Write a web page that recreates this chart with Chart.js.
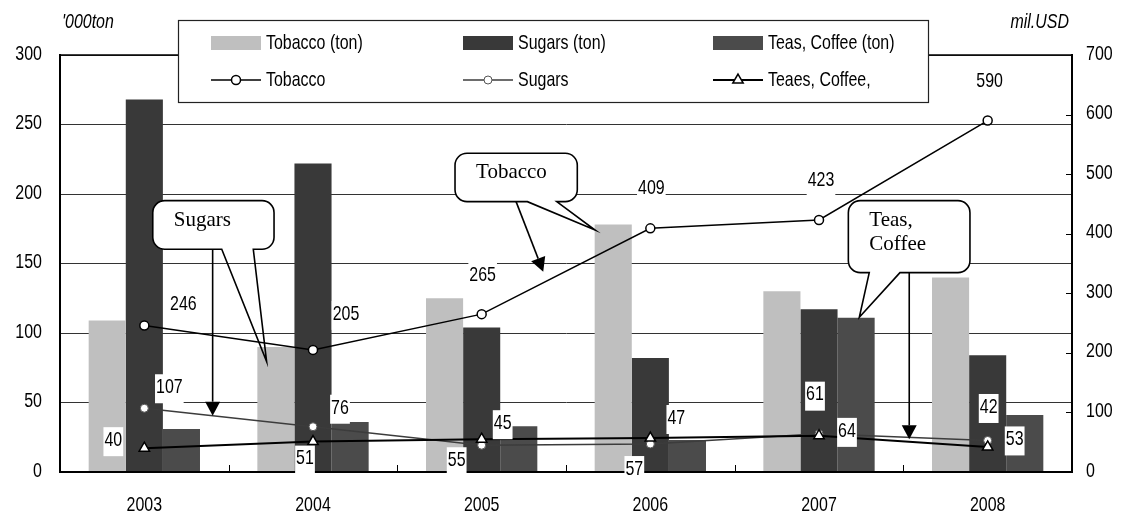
<!DOCTYPE html>
<html>
<head>
<meta charset="utf-8">
<script src="https://cdn.jsdelivr.net/npm/chart.js@4.4.1/dist/chart.umd.min.js"></script>
<style>
  html, body { margin: 0; padding: 0; background: #fff; }
  canvas { display: block; }
</style>
</head>
<body>
<canvas id="c" width="1121" height="515"></canvas>
<script>
// ---- data -------------------------------------------------------------
const years = ['2003', '2004', '2005', '2006', '2007', '2008'];

// import volume, '000 ton (left axis)
const tobaccoTon    = [109, 90, 125, 178, 130, 140];
const sugarsTon     = [268, 222, 104, 82, 117, 84];
const teasCoffeeTon = [31, 36, 33, 23, 111, 41];

// import value, mil. USD (right axis)
const tobaccoUsd    = [246, 205, 265, 409, 423, 590];
const sugarsUsd     = [107, 76, 45, 47, 64, 53];
const teasCoffeeUsd = [40, 51, 55, 57, 61, 42];

// axis ticks
const leftTicks  = [0, 50, 100, 150, 200, 250, 300];
const rightTicks = [0, 100, 200, 300, 400, 500, 600, 700];

// ---- fonts --------------------------------------------------------------
function fontAvailable(name) {
  const c = document.createElement('canvas').getContext('2d');
  const probe = 'mmmmmmmmmmlli0123456789WQ';
  c.font = '40px monospace';
  const a = c.measureText(probe).width;
  c.font = '40px "' + name + '", monospace';
  return c.measureText(probe).width !== a;
}
const NARROW = fontAvailable('Liberation Sans Narrow');
const FAM = NARROW ? '"Liberation Sans Narrow", "Arial Narrow", sans-serif'
                   : '"Liberation Sans", Arial, sans-serif';
// condensed look: squeeze the regular face when no narrow face is installed
const SQ = NARROW ? 1.0 : 0.76;
const SQ_TICK = NARROW ? 1.08 : 0.8;
const TXT = 21;
const SERIF = '"Liberation Serif", "Times New Roman", serif';

function drawText(ctx, text, x, y, o) {
  o = o || {};
  ctx.save();
  ctx.font = (o.italic ? 'italic ' : '') + (o.size || TXT) + 'px ' + (o.family || FAM);
  ctx.fillStyle = o.color || '#000';
  ctx.textAlign = o.align || 'left';
  ctx.textBaseline = o.baseline || 'middle';
  ctx.translate(x, y);
  ctx.scale(o.sx != null ? o.sx : SQ, 1);
  ctx.fillText(text, 0, 0);
  ctx.restore();
}
function textWidth(ctx, text, o) {
  o = o || {};
  ctx.save();
  ctx.font = (o.italic ? 'italic ' : '') + (o.size || TXT) + 'px ' + (o.family || FAM);
  const w = ctx.measureText(text).width * (o.sx != null ? o.sx : SQ);
  ctx.restore();
  return w;
}

// ---- value label placement: [dx, dy] from the point to the label centre ----
const labelShift = {
  'Tobacco':        [[39, -21], [33, -36], [1, -39], [1, -40], [2, -40], [2, -39]],
  'Sugars':         [[25, -21], [27, -19], [21, -22], [26, -26], [28, -3], [27, -1]],
  'Teaes, Coffee,': [[-31, -8], [-8, 17], [-25, 21], [-16, 31], [-4, -41], [1, -40]]
};

// ---- callouts (x in category units, y in left-axis units) --------------
const callouts = [
  { text: ['Sugars'],          box: [0.050, 0.769, 195.2, 160.2], tail: [0.459, 0.646], tip: [0.725, 79.4],
    arrow: [[0.405, 160.2], [0.405, 40.5]] },
  { text: ['Tobacco'],         box: [1.842, 2.567, 229.3, 194.5], tail: [2.271, 2.445], tip: [2.672, 174.1],
    arrow: [[2.204, 194.5], [2.365, 144.1]] },
  { text: ['Teas,', 'Coffee'], box: [4.174, 4.895, 195.2, 143.4], tail: [4.298, 4.480], tip: [4.239, 111.3],
    arrow: [[4.535, 143.4], [4.535, 23.5]] }
];

function drawArrow(ctx, x1, y1, x2, y2) {
  const ang = Math.atan2(y2 - y1, x2 - x1);
  const len = 14, half = 7.5;
  const bx = x2 - Math.cos(ang) * len, by = y2 - Math.sin(ang) * len;
  ctx.beginPath();
  ctx.moveTo(x1, y1);
  ctx.lineTo(bx, by);
  ctx.stroke();
  ctx.beginPath();
  ctx.moveTo(x2, y2);
  ctx.lineTo(bx + Math.sin(ang) * half, by - Math.cos(ang) * half);
  ctx.lineTo(bx - Math.sin(ang) * half, by + Math.cos(ang) * half);
  ctx.closePath();
  ctx.fill();
}

function drawCallout(ctx, c, xs, ys) {
  const L = xs.getPixelForValue(c.box[0]), R = xs.getPixelForValue(c.box[1]);
  const T = ys.getPixelForValue(c.box[2]), B = ys.getPixelForValue(c.box[3]);
  const bl = xs.getPixelForValue(c.tail[0]), br = xs.getPixelForValue(c.tail[1]);
  const tx = xs.getPixelForValue(c.tip[0]), ty = ys.getPixelForValue(c.tip[1]);
  const r = 12;
  ctx.save();
  ctx.fillStyle = '#fff';
  ctx.strokeStyle = '#000';
  ctx.lineWidth = 1.6;
  // body
  ctx.beginPath();
  ctx.moveTo(L + r, T);
  ctx.arcTo(R, T, R, T + r, r);
  ctx.arcTo(R, B, R - r, B, r);
  ctx.arcTo(L, B, L, B - r, r);
  ctx.arcTo(L, T, L + r, T, r);
  ctx.closePath();
  ctx.fill();
  // outline with pointer
  ctx.beginPath();
  ctx.moveTo(L + r, T);
  ctx.arcTo(R, T, R, T + r, r);
  ctx.arcTo(R, B, R - r, B, r);
  ctx.lineTo(br, B);
  ctx.lineTo(tx, ty);
  ctx.lineTo(bl, B);
  ctx.arcTo(L, B, L, B - r, r);
  ctx.arcTo(L, T, L + r, T, r);
  ctx.closePath();
  ctx.stroke();
  // text
  c.text.forEach((t, i) => {
    drawText(ctx, t, L + 21, T + 25 + i * 24.5, { family: SERIF, size: 21, baseline: 'alphabetic', sx: 1 });
  });
  // arrow
  ctx.fillStyle = '#000';
  const a = c.arrow;
  drawArrow(ctx, xs.getPixelForValue(a[0][0]), ys.getPixelForValue(a[0][1]),
                 xs.getPixelForValue(a[1][0]), ys.getPixelForValue(a[1][1]));
  ctx.restore();
}

// ---- plugin: frame ticks, callouts, value labels, legend, axis text ----
const decorPlugin = {
  id: 'decor',
  afterDatasetsDraw(chart) {
    const ctx = chart.ctx;
    const xs = chart.scales.x, ys = chart.scales.y, y1 = chart.scales.y1;
    const area = chart.chartArea;
    ctx.save();
    ctx.strokeStyle = '#000';
    ctx.lineWidth = 1;
    // category separators on the x axis, pointing inward
    for (let i = 0; i < years.length - 1; i++) {
      const x = Math.round((xs.getPixelForValue(i) + xs.getPixelForValue(i + 1)) / 2) + 0.5;
      ctx.beginPath();
      ctx.moveTo(x, area.bottom);
      ctx.lineTo(x, area.bottom - 7);
      ctx.stroke();
    }
    // right axis inner tick marks
    y1.ticks.forEach(t => {
      if (t.value === y1.min || t.value === y1.max) return;
      const y = Math.round(y1.getPixelForValue(t.value)) + 0.5;
      ctx.beginPath();
      ctx.moveTo(area.right - 6, y);
      ctx.lineTo(area.right, y);
      ctx.stroke();
    });
    // top frame line
    ctx.lineWidth = 1.5;
    ctx.beginPath();
    ctx.moveTo(area.left, area.top);
    ctx.lineTo(area.right, area.top);
    ctx.stroke();
    ctx.restore();

    callouts.forEach(c => drawCallout(ctx, c, xs, ys));
  },
  afterDraw(chart) {
    const ctx = chart.ctx;
    const area = chart.chartArea;
    const ds = chart.data.datasets;
    const xs = chart.scales.x, ys = chart.scales.y, y1 = chart.scales.y1;

    // tick labels, placed by the scales
    ys.ticks.forEach(t => {
      drawText(ctx, String(t.value), area.left - 18, ys.getPixelForValue(t.value) - 1,
        { align: 'right', size: 20, sx: SQ_TICK });
    });
    y1.ticks.forEach(t => {
      drawText(ctx, String(t.value), area.right + 14, y1.getPixelForValue(t.value) - 1,
        { align: 'left', size: 20, sx: SQ_TICK });
    });
    xs.getLabels().forEach((lab, i) => {
      drawText(ctx, lab, xs.getPixelForValue(i), area.bottom + 33, { align: 'center' });
    });

    // value labels on the line series
    ds.forEach((d, di) => {
      if (d.type !== 'line') return;
      const meta = chart.getDatasetMeta(di);
      const shift = labelShift[d.label];
      meta.data.forEach((pt, j) => {
        const txt = String(d.data[j]);
        const cx = pt.x + shift[j][0], cy = pt.y + shift[j][1];
        const w = textWidth(ctx, txt);
        ctx.fillStyle = '#fff';
        ctx.fillRect(cx - w / 2 - 1, cy - 13, w + 2, 29);
        drawText(ctx, txt, cx, cy, { align: 'center' });
      });
    });

    // legend box
    const box = { l: 178, t: 20, r: 928, b: 102 };
    ctx.save();
    ctx.fillStyle = '#fff';
    ctx.fillRect(box.l, box.t, box.r - box.l, box.b - box.t);
    ctx.strokeStyle = '#222';
    ctx.lineWidth = 1.2;
    ctx.strokeRect(box.l + 0.5, box.t + 0.5, box.r - box.l, box.b - box.t);
    const cols = [211, 463, 713], rows = [43, 80];
    const bars = ds.filter(d => d.type !== 'line');
    const lines = ds.filter(d => d.type === 'line');
    bars.forEach((d, i) => {
      ctx.fillStyle = d.backgroundColor;
      ctx.fillRect(cols[i], rows[0] - 7, 50, 14);
      drawText(ctx, d.label, cols[i] + 55, rows[0]);
    });
    lines.forEach((d, i) => {
      ctx.strokeStyle = d.borderColor;
      ctx.lineWidth = d.borderWidth;
      ctx.beginPath();
      ctx.moveTo(cols[i], rows[1]);
      ctx.lineTo(cols[i] + 50, rows[1]);
      ctx.stroke();
      ctx.fillStyle = d.pointBackgroundColor;
      ctx.strokeStyle = d.pointBorderColor;
      ctx.lineWidth = d.pointBorderWidth;
      Chart.helpers.drawPoint(ctx, { pointStyle: d.pointStyle, radius: d.pointRadius, borderWidth: d.pointBorderWidth, rotation: 0 },
        cols[i] + 25, rows[1]);
      drawText(ctx, d.label, cols[i] + 55, rows[1]);
    });
    ctx.restore();

    // axis units
    drawText(ctx, "'000ton", area.left + 2, 22, { italic: true });
    drawText(ctx, 'mil.USD', area.right - 3, 22, { italic: true, align: 'right' });
  }
};

// ---- chart ----------------------------------------------------------------
new Chart(document.getElementById('c'), {
  type: 'bar',
  data: {
    labels: years,
    datasets: [
      { label: 'Tobacco (ton)', data: tobaccoTon, yAxisID: 'y', backgroundColor: '#bfbfbf', order: 2 },
      { label: 'Sugars (ton)', data: sugarsTon, yAxisID: 'y', backgroundColor: '#393939', order: 2 },
      { label: 'Teas, Coffee (ton)', data: teasCoffeeTon, yAxisID: 'y', backgroundColor: '#4b4b4b', order: 2 },
      { type: 'line', label: 'Tobacco', data: tobaccoUsd, yAxisID: 'y1',
        borderColor: '#000', borderWidth: 1.5, tension: 0,
        pointStyle: 'circle', pointRadius: 4.5, pointBackgroundColor: '#fff',
        pointBorderColor: '#000', pointBorderWidth: 1.5, order: 1 },
      { type: 'line', label: 'Sugars', data: sugarsUsd, yAxisID: 'y1',
        borderColor: '#3c3c3c', borderWidth: 1.5, tension: 0,
        pointStyle: 'circle', pointRadius: 4, pointBackgroundColor: '#fff',
        pointBorderColor: '#555', pointBorderWidth: 1, order: 1 },
      { type: 'line', label: 'Teaes, Coffee,', data: teasCoffeeUsd, yAxisID: 'y1',
        borderColor: '#000', borderWidth: 2, tension: 0,
        pointStyle: 'triangle', pointRadius: 6, pointBackgroundColor: '#fff',
        pointBorderColor: '#000', pointBorderWidth: 1.5, order: 0 }
    ]
  },
  options: {
    responsive: false,
    animation: false,
    devicePixelRatio: 1,
    layout: { padding: { top: 55, left: 0, right: 0, bottom: 0 } },
    datasets: { bar: { categoryPercentage: 0.66, barPercentage: 1 } },
    plugins: { legend: { display: false }, tooltip: { enabled: false } },
    scales: {
      x: {
        grid: { display: false, drawTicks: false },
        border: { display: true, color: '#000', width: 2, z: 1 },
        ticks: { display: false },
        afterFit(s) { s.height = 43; }
      },
      y: {
        position: 'left',
        min: leftTicks[0], max: leftTicks[leftTicks.length - 1],
        afterBuildTicks(s) { s.ticks = leftTicks.map(v => ({ value: v })); },
        ticks: { display: false },
        grid: {
          drawTicks: false, lineWidth: 1,
          color: c => (c.tick && c.tick.value === 0) ? 'rgba(0,0,0,0)' : '#333'
        },
        border: { display: true, color: '#000', width: 2, z: 1 },
        afterFit(s) { s.width = 60; }
      },
      y1: {
        position: 'right',
        min: rightTicks[0], max: rightTicks[rightTicks.length - 1],
        afterBuildTicks(s) { s.ticks = rightTicks.map(v => ({ value: v })); },
        ticks: { display: false },
        grid: { display: false, drawTicks: false },
        border: { display: true, color: '#000', width: 2, z: 1 },
        afterFit(s) { s.width = 49; }
      }
    }
  },
  plugins: [decorPlugin]
});
</script>
</body>
</html>
